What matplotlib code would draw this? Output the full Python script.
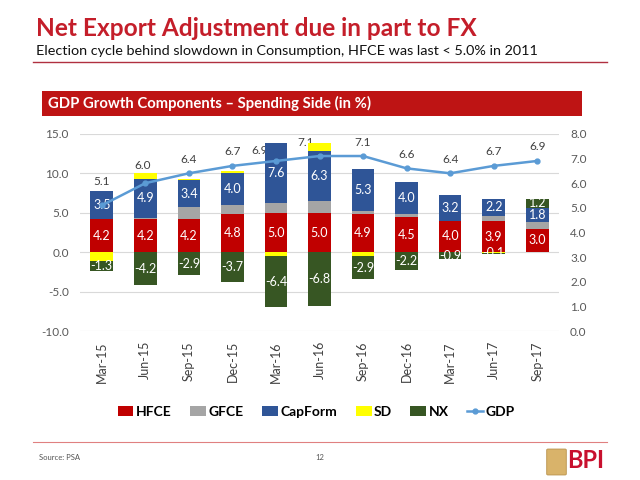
import matplotlib
matplotlib.use("Agg")
import matplotlib.pyplot as plt
from matplotlib.patches import Rectangle, FancyBboxPatch
from matplotlib.lines import Line2D
import numpy as np

plt.rcParams['font.family'] = ['Lato', 'DejaVu Sans']

# data
quarters = ["Mar-15", "Jun-15", "Sep-15", "Dec-15", "Mar-16", "Jun-16",
            "Sep-16", "Dec-16", "Mar-17", "Jun-17", "Sep-17"]
hfce = [4.2, 4.2, 4.2, 4.8, 5.0, 5.0, 4.9, 4.5, 4.0, 3.9, 3.0]
gfce = [0.0, 0.2, 1.5, 1.2, 1.2, 1.5, 0.3, 0.4, 0.0, 0.7, 0.8]
capform = [3.5, 4.9, 3.4, 4.0, 7.6, 6.3, 5.3, 4.0, 3.2, 2.2, 1.8]
sd = [-1.1, 0.8, 0.2, 0.3, -0.5, 1.0, -0.5, 0.0, 0.1, -0.1, 0.0]
nx = [-1.3, -4.2, -2.9, -3.7, -6.4, -6.8, -2.9, -2.2, -0.9, -0.1, 1.2]
gdp = [5.1, 6.0, 6.4, 6.7, 6.9, 7.1, 7.1, 6.6, 6.4, 6.7, 6.9]

series = [
    ("HFCE", hfce, "#C00000", True),
    ("GFCE", gfce, "#A5A5A5", False),
    ("CapForm", capform, "#2F5597", True),
    ("SD", sd, "#FFFF00", False),
    ("NX", nx, "#375623", True),
]

W, H = 640, 480


def px(x, y):
    return x / W, 1 - y / H


fig = plt.figure(figsize=(6.4, 4.8), dpi=100)
fig.patch.set_facecolor("white")

# header
fig.text(*px(36, 36), "Net Export Adjustment due in part to FX", fontsize=17.6,
         fontweight="bold", color="#C41E2A", va="baseline", ha="left")
fig.text(*px(36, 55), "Election cycle behind slowdown in Consumption, HFCE was last < 5.0% in 2011",
         fontsize=10.4, color="#111111", va="baseline", ha="left")
fig.add_artist(Line2D([33 / W, 607 / W], [1 - 62 / H] * 2, color="#B03040", lw=1.0))

x0, y0 = px(42, 116)
fig.add_artist(Rectangle((x0, y0), 540 / W, 25 / H, facecolor="#BE1414",
                         edgecolor="none", transform=fig.transFigure))
fig.text(*px(48, 103.5), "GDP Growth Components \u2013 Spending Side (in %)", fontsize=10.7,
         fontweight="bold", color="white", va="center", ha="left")

# chart
l, b = px(80, 331.3)
ax = fig.add_axes([l, b, 479 / W, (331.3 - 133.8) / H])
ax2 = ax.twinx()

x = np.arange(len(quarters))
width = 0.52
pos_bottom = np.zeros(len(x))
neg_bottom = np.zeros(len(x))
handles = []
for name, vals, color, labelled in series:
    vals = np.array(vals)
    bottom = np.where(vals >= 0, pos_bottom, neg_bottom)
    bars = ax.bar(x, vals, width, bottom=bottom, color=color, label=name, zorder=2)
    handles.append(bars)
    if labelled:
        for i, v in enumerate(vals):
            if v != 0:
                ax.text(i, bottom[i] + v / 2, f"{v:.1f}", ha="center", va="center",
                        color="white", fontsize=9, zorder=3)
    pos_bottom = np.where(vals >= 0, pos_bottom + vals, pos_bottom)
    neg_bottom = np.where(vals < 0, neg_bottom + vals, neg_bottom)

line, = ax2.plot(x, gdp, color="#5B9BD5", lw=1.8, marker="o", markersize=3.5, label="GDP")
handles.append(line)

# GDP labels, a few nudged off the bars like on the slide
offsets = {0: (0, 24), 1: (-3, 18), 4: (-16, 10), 5: (-14, 14)}
for i, v in enumerate(gdp):
    dx, dy = offsets.get(i, (0, 14))
    ax.annotate(f"{v:.1f}", xy=(i, v), xycoords=ax2.transData, xytext=(dx, dy),
                textcoords="offset pixels", ha="center", va="center",
                fontsize=8.5, color="#404040", zorder=1, annotation_clip=False)

ax.set_xlim(-0.5, len(x) - 0.5)
ax.set_ylim(-10, 15)
ax.set_yticks(np.arange(-10, 16, 5))
ax.set_yticklabels([f"{t:.1f}" for t in np.arange(-10, 16, 5)])
ax2.set_ylim(0, 8)
ax2.set_yticks(np.arange(0, 9, 1))
ax2.set_yticklabels([f"{t:.1f}" for t in np.arange(0, 9, 1)])
ax.set_xticks(x)
ax.set_xticklabels(quarters, rotation=90)
ax.grid(axis="y", color="#D9D9D9", lw=0.8, zorder=0)
ax.set_axisbelow(True)
for a in (ax, ax2):
    for s in a.spines.values():
        s.set_visible(False)
ax.tick_params(axis="y", length=0, pad=8, labelsize=8.5, labelcolor="#595959")
ax2.tick_params(axis="y", length=0, pad=8, labelsize=8.5, labelcolor="#595959")
ax.tick_params(axis="x", length=0, pad=7, labelsize=9, labelcolor="#404040")

fig.legend(handles=handles, labels=[h.get_label() for h in handles], loc="center",
           bbox_to_anchor=px(316, 412), ncol=6, frameon=False,
           handlelength=1.15, handleheight=0.65, columnspacing=1.35, handletextpad=0.15,
           prop={"weight": "bold", "size": 10})

# footer
fig.add_artist(Line2D([33 / W, 607 / W], [1 - 442 / H] * 2, color="#E08080", lw=0.8))
fig.text(*px(39, 458), "Source: PSA", fontsize=5.5, color="#555555", va="center", ha="left")
fig.text(*px(320, 458), "12", fontsize=5.5, color="#555555", va="center", ha="center")
ex, ey = px(548, 474)
fig.add_artist(FancyBboxPatch((ex, ey), 17 / W, 24 / H, boxstyle="round,pad=0.002",
                              facecolor="#D9B36A", edgecolor="#B8914A", lw=0.6,
                              transform=fig.transFigure))
fig.text(*px(567, 460), "BPI", fontsize=17, fontweight="bold", color="#C8102E",
         va="center", ha="left")

fig.savefig("out.png", dpi=100)
